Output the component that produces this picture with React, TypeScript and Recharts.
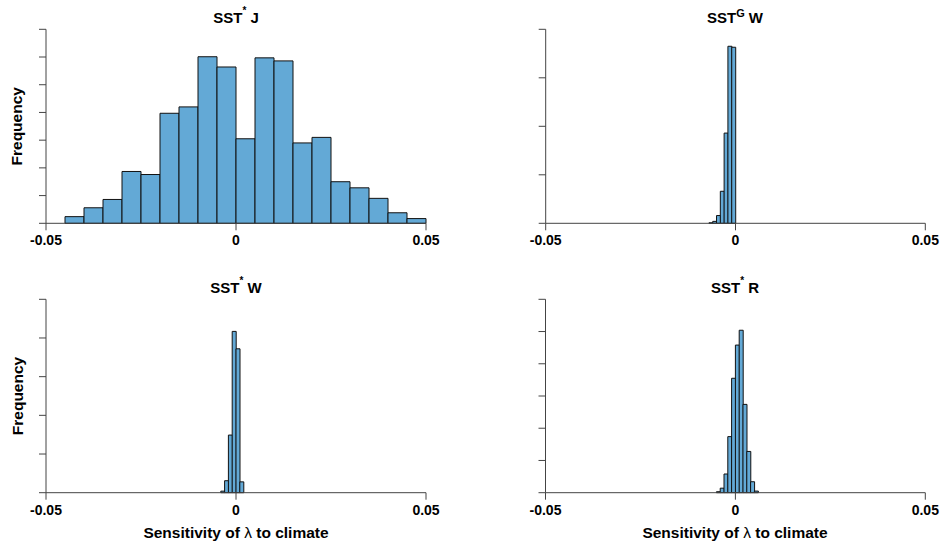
import React from 'react';
import { Bar, BarChart, XAxis, YAxis } from 'recharts';

// histogram counts, one value per bin
const sstJStart = -0.05;
const sstJWidth = 0.005;
const sstJCounts = [0, 2.4, 5.6, 8.6, 18.7, 17.6, 39.7, 42, 60.1, 56.4, 30.5, 59.7, 58.6, 29, 31, 15, 12.8, 9, 3.8, 1.7];
const sstJTicks = [0, 10, 20, 30, 40, 50, 60, 70];

const sstGWStart = -0.007;
const sstGWWidth = 0.001;
const sstGWCounts = [1, 4, 16, 66, 186, 365, 363];
const sstGWTicks = [0, 100, 200, 300, 400];

const sstWStart = -0.004;
const sstWWidth = 0.001;
const sstWCounts = [4, 31, 149, 417, 372, 28];
const sstWTicks = [0, 100, 200, 300, 400, 500];

const sstRStart = -0.005;
const sstRWidth = 0.001;
const sstRCounts = [3, 14, 58, 174, 355, 458, 504, 274, 128, 34, 5];
const sstRTicks = [0, 100, 200, 300, 400, 500, 600];

const xTicks = [-0.05, 0, 0.05];

const FONT = '"Liberation Sans", Arial, Helvetica, sans-serif';
const BAR_FILL = '#63a9d6';
const AXIS = '#444';

const toBins = (start: number, width: number, counts: number[]) =>
  counts.map((count, i) => ({ mid: start + (i + 0.5) * width, count }));

const fmtX = (v: number) => (v === 0 ? '0' : v.toFixed(2));

interface IHist {
  data: { mid: number; count: number }[];
  yTicks: number[];
  width: number;
  height: number;
  yAxisWidth: number;
  margin: { top: number; right: number; bottom: number; left: number };
}

const Hist = ({ data, yTicks, width, height, yAxisWidth, margin }: IHist) => (
  <BarChart width={width} height={height} data={data} margin={margin} barCategoryGap={0} barGap={0}>
    <XAxis
      type='number'
      dataKey='mid'
      domain={[-0.05, 0.05]}
      ticks={xTicks}
      tickFormatter={fmtX}
      height={30}
      tickSize={7}
      tickMargin={5}
      stroke={AXIS}
      tick={{ fontSize: 14, fontWeight: 'bold', fill: '#000', fontFamily: FONT }}
    />
    <YAxis
      type='number'
      domain={[0, yTicks[yTicks.length - 1]]}
      ticks={yTicks}
      width={yAxisWidth}
      tickSize={7}
      tickFormatter={() => ''}
      stroke={AXIS}
    />
    <Bar dataKey='count' fill={BAR_FILL} stroke='#111' strokeWidth={1} isAnimationActive={false} />
  </BarChart>
);

const textStyle = { fontFamily: FONT, fontWeight: 'bold' as const, fill: '#000' };

const Title = ({ x, y, sup, rest, supSize, lift }: { x: number; y: number; sup: string; rest: string; supSize: number; lift: number }) => (
  <text x={x} y={y} textAnchor='middle' fontSize={15} style={textStyle}>
    SST
    <tspan fontSize={supSize} dy={-lift}>{sup}</tspan>
    <tspan dy={lift}>{rest}</tspan>
  </text>
);

const XLabel = ({ x }: { x: number }) => (
  <text x={x} y={538.4} textAnchor='middle' fontSize={15.5} style={textStyle}>
    Sensitivity of <tspan fontWeight='normal'>λ</tspan> to climate
  </text>
);

const YLabel = ({ y }: { y: number }) => (
  <text x={22.5} y={y} textAnchor='middle' fontSize={15.5} style={textStyle} transform={`rotate(-90, 22.5, ${y})`}>
    Frequency
  </text>
);

export default function App() {
  return (
    <div style={{ position: 'absolute', left: 0, top: 0, width: 942, height: 549, background: '#fff' }}>
      <div style={{ position: 'absolute', left: 0, top: 0 }}>
        <Hist
          data={toBins(sstJStart, sstJWidth, sstJCounts)}
          yTicks={sstJTicks}
          width={471}
          height={260}
          yAxisWidth={46}
          margin={{ top: 29.3, right: 45, bottom: 6.7, left: 0 }}
        />
      </div>
      <div style={{ position: 'absolute', left: 500, top: 0 }}>
        <Hist
          data={toBins(sstGWStart, sstGWWidth, sstGWCounts)}
          yTicks={sstGWTicks}
          width={442}
          height={260}
          yAxisWidth={45.7}
          margin={{ top: 29.3, right: 16.7, bottom: 6.7, left: 0 }}
        />
      </div>
      <div style={{ position: 'absolute', left: 0, top: 270 }}>
        <Hist
          data={toBins(sstWStart, sstWWidth, sstWCounts)}
          yTicks={sstWTicks}
          width={471}
          height={260}
          yAxisWidth={46}
          margin={{ top: 29.3, right: 45, bottom: 7.3, left: 0 }}
        />
      </div>
      <div style={{ position: 'absolute', left: 500, top: 270 }}>
        <Hist
          data={toBins(sstRStart, sstRWidth, sstRCounts)}
          yTicks={sstRTicks}
          width={442}
          height={260}
          yAxisWidth={45.5}
          margin={{ top: 29.3, right: 16.7, bottom: 7.3, left: 0 }}
        />
      </div>
      <svg width={942} height={549} style={{ position: 'absolute', left: 0, top: 0, pointerEvents: 'none' }}>
        <Title x={236} y={22.7} sup='*' rest=' J' supSize={10} lift={9} />
        <Title x={735} y={22.7} sup='G' rest=' W' supSize={11} lift={6} />
        <Title x={236} y={292.7} sup='*' rest=' W' supSize={10} lift={9} />
        <Title x={735} y={292.7} sup='*' rest=' R' supSize={10} lift={9} />
        <YLabel y={126.3} />
        <YLabel y={396} />
        <XLabel x={236} />
        <XLabel x={735} />
      </svg>
    </div>
  );
}
